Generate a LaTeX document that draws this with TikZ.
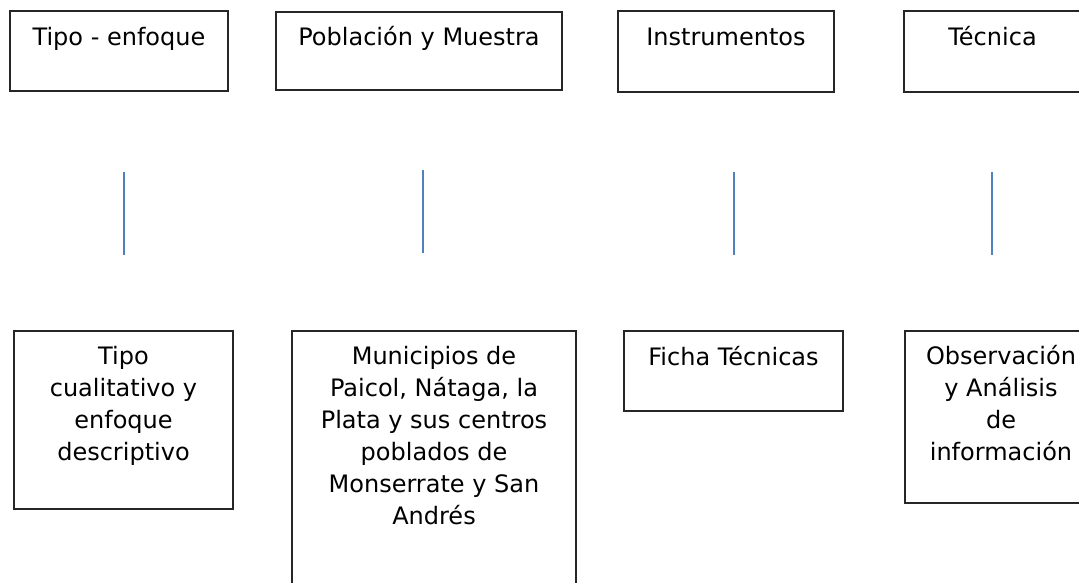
\documentclass[tikz,border=0pt]{standalone}
\usepackage{fontspec}
\setmainfont{DejaVu Sans}
\usepackage{tikz}
\usepackage{xcolor}
\definecolor{linkblue}{RGB}{79,129,189}

\begin{document}
\begin{tikzpicture}[x=1pt,y=-1pt,
  box/.style={draw=black!85,line width=1.2pt,rectangle,inner sep=0pt},
  txt/.style={inner sep=0pt,align=center,font=\fontsize{24}{32}\selectfont},
  link/.style={draw=linkblue,line width=1.3pt}]
\useasboundingbox (0,0) rectangle (1079,582);
\clip (0,0) rectangle (1079,582);

% top row
\node[box,minimum width=218pt,minimum height=80pt] (tipo) at (119,51) {};
\node[box,minimum width=286pt,minimum height=78pt] (pobl) at (419,51) {};
\node[box,minimum width=216pt,minimum height=81pt] (instr) at (726,51.5) {};
\node[box,minimum width=177pt,minimum height=81pt] (tecn) at (992.5,51.5) {};

\node[txt,anchor=base] (tipoT) at ([yshift=-35pt]tipo.north) {Tipo - enfoque};
\node[txt,anchor=base] (poblT) at ([yshift=-34pt]pobl.north) {Población y Muestra};
\node[txt,anchor=base] (instrT) at ([yshift=-35pt]instr.north) {Instrumentos};
\node[txt,anchor=base] (tecnT) at ([yshift=-35pt]tecn.north) {Técnica};

% blue lines
\coordinate (tipoA) at (124,172);  \coordinate (tipoB) at (124,255);
\coordinate (poblA) at (423,170);  \coordinate (poblB) at (423,253);
\coordinate (instrA) at (734,172); \coordinate (instrB) at (734,255);
\coordinate (tecnA) at (992,172);  \coordinate (tecnB) at (992,255);
\draw[link] (tipoA) -- (tipoB);
\draw[link] (poblA) -- (poblB);
\draw[link] (instrA) -- (instrB);
\draw[link] (tecnA) -- (tecnB);

% bottom row
\node[box,minimum width=219pt,minimum height=178pt] (tipoD) at (123.5,420) {};
\node[box,minimum width=284pt,minimum height=270pt] (poblD) at (434,466) {};
\node[box,minimum width=219pt,minimum height=80pt] (instrD) at (733.5,371) {};
\node[box,minimum width=192pt,minimum height=172pt] (tecnD) at (1001,417) {};

\node[txt,anchor=north] (tipoDT) at ([yshift=-16pt]tipoD.north) {Tipo\\cualitativo y\\enfoque\\descriptivo};
\node[txt,anchor=north] (poblDT) at ([yshift=-16pt]poblD.north) {Municipios de\\Paicol, Nátaga, la\\Plata y sus centros\\poblados de\\Monserrate y San\\Andrés};
\node[txt,anchor=base] (instrDT) at ([yshift=-35pt]instrD.north) {Ficha Técnicas};
\node[txt,anchor=north] (tecnDT) at ([yshift=-15pt]tecnD.north) {Observación\\y Análisis\\de\\información};

\end{tikzpicture}
\end{document}
